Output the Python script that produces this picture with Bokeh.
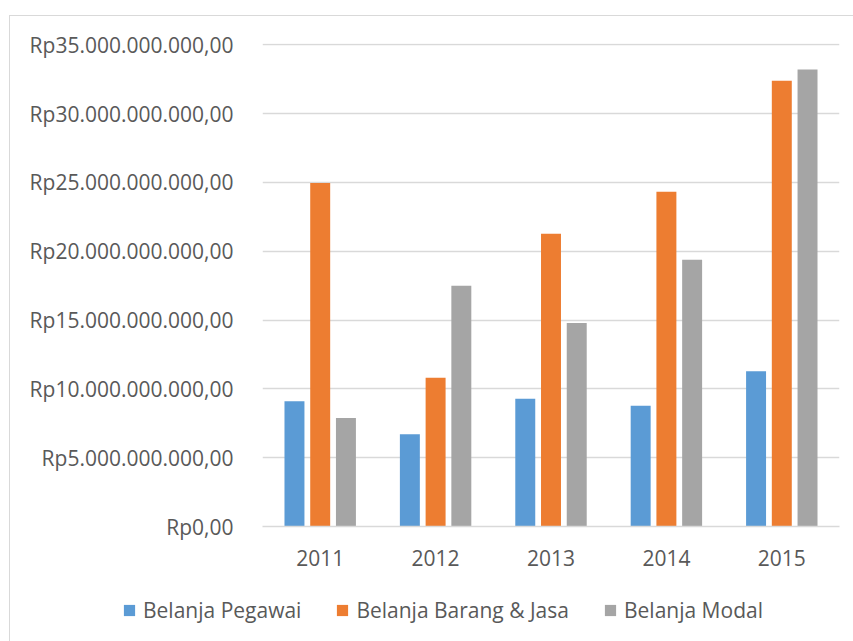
from bokeh.plotting import figure
from bokeh.models import (ColumnDataSource, FactorRange, Range1d, FixedTicker,
                          Legend, LegendItem, InlineStyleSheet)
from bokeh.transform import dodge
from bokeh.embed import file_html
from bokeh.resources import INLINE

years = ["2011", "2012", "2013", "2014", "2015"]
belanja_pegawai = [9.11e9, 6.71e9, 9.28e9, 8.77e9, 11.29e9]
belanja_barang_jasa = [24.96e9, 10.81e9, 21.27e9, 24.32e9, 32.39e9]
belanja_modal = [7.88e9, 17.49e9, 14.78e9, 19.38e9, 33.21e9]
series_names = ["Belanja Pegawai", "Belanja Barang & Jasa", "Belanja Modal"]
colors = ["#5b9bd5", "#ed7d31", "#a5a5a5"]
tick_values = [0, 5e9, 10e9, 15e9, 20e9, 25e9, 30e9, 35e9]
tick_labels = ["Rp0,00", "Rp5.000.000.000,00", "Rp10.000.000.000,00",
               "Rp15.000.000.000,00", "Rp20.000.000.000,00",
               "Rp25.000.000.000,00", "Rp30.000.000.000,00",
               "Rp35.000.000.000,00"]

FONT = "Open Sans"
TXT = "#595959"
GRID = "#d9d9d9"

TOP_H = 585
LEG_H = 641 - TOP_H

source = ColumnDataSource(dict(year=years, peg=belanja_pegawai,
                               brg=belanja_barang_jasa, mod=belanja_modal))

p = figure(width=853, height=TOP_H, output_backend="svg", toolbar_location=None,
           x_range=FactorRange(*years, range_padding=0),
           y_range=Range1d(0, 35.1e9),
           min_border_left=262, min_border_right=14,
           min_border_top=43, min_border_bottom=TOP_H - 526)
p.outline_line_color = None
p.background_fill_color = "white"
p.border_fill_color = "white"

offset = 0.223
bw = 0.173
r1 = p.vbar(x=dodge("year", -offset, range=p.x_range), top="peg", width=bw,
            source=source, fill_color=colors[0], line_color=None)
r2 = p.vbar(x=dodge("year", 0, range=p.x_range), top="brg", width=bw,
            source=source, fill_color=colors[1], line_color=None)
r3 = p.vbar(x=dodge("year", offset, range=p.x_range), top="mod", width=bw,
            source=source, fill_color=colors[2], line_color=None)

# axes
p.yaxis.ticker = FixedTicker(ticks=tick_values)
p.yaxis.major_label_overrides = {v: l for v, l in zip(tick_values, tick_labels)}
p.yaxis.axis_line_color = None
p.yaxis.major_tick_line_color = None
p.yaxis.minor_tick_line_color = None
p.yaxis.major_label_standoff = 23
p.yaxis.major_label_text_font = FONT
p.yaxis.major_label_text_font_size = "21px"
p.yaxis.major_label_text_color = TXT

p.xaxis.axis_line_color = GRID
p.xaxis.axis_line_width = 1.5
p.xaxis.major_tick_line_color = None
p.xaxis.minor_tick_line_color = None
p.xaxis.major_label_standoff = 17
p.xaxis.major_label_text_font = FONT
p.xaxis.major_label_text_font_size = "21px"
p.xaxis.major_label_text_color = TXT

p.xgrid.grid_line_color = None
p.ygrid.grid_line_color = GRID
p.ygrid.grid_line_width = 1.5

# legend strip underneath the chart; its key renderers are hidden so only
# the legend itself is drawn
q = figure(width=853, height=LEG_H, output_backend="svg", toolbar_location=None,
           x_range=FactorRange(*years, range_padding=0), y_range=Range1d(0, 35e9),
           min_border_left=0, min_border_right=0,
           min_border_top=0, min_border_bottom=0)
q.axis.visible = False
q.grid.grid_line_color = None
q.outline_line_color = None
q.border_fill_color = "white"
q.background_fill_color = "white"
k1 = q.vbar(x="year", top="peg", width=bw, source=source, fill_color=colors[0], line_color=None)
k2 = q.vbar(x="year", top="brg", width=bw, source=source, fill_color=colors[1], line_color=None)
k3 = q.vbar(x="year", top="mod", width=bw, source=source, fill_color=colors[2], line_color=None)
for k in (k1, k2, k3):
    k.visible = False

legend = Legend(items=[LegendItem(label=series_names[0], renderers=[k1]),
                       LegendItem(label=series_names[1], renderers=[k2]),
                       LegendItem(label=series_names[2], renderers=[k3])],
                orientation="horizontal", location=(122, 17),
                glyph_width=14, glyph_height=14, label_standoff=7, spacing=34,
                padding=0, margin=0, border_line_color=None,
                background_fill_alpha=0, inactive_fill_alpha=0,
                click_policy="none",
                label_text_font=FONT, label_text_font_size="21px",
                label_text_color=TXT, label_height=21)
q.add_layout(legend, "center")

# light chart-area border (left and top edges visible in the window)
p.stylesheets = [InlineStyleSheet(css="""
:host { position: relative; }
:host::after { content: ''; position: absolute; left: 9px; top: 15px;
  right: 0px; bottom: 0px; border-left: 1.5px solid #d9d9d9;
  border-top: 1.5px solid #d9d9d9; pointer-events: none; }
""")]
q.stylesheets = [InlineStyleSheet(css="""
:host { position: relative; }
:host::after { content: ''; position: absolute; left: 9px; top: 0px;
  right: 0px; bottom: 0px; border-left: 1.5px solid #d9d9d9;
  pointer-events: none; }
""")]

open("out.html", "w").write(file_html([p, q], INLINE))
